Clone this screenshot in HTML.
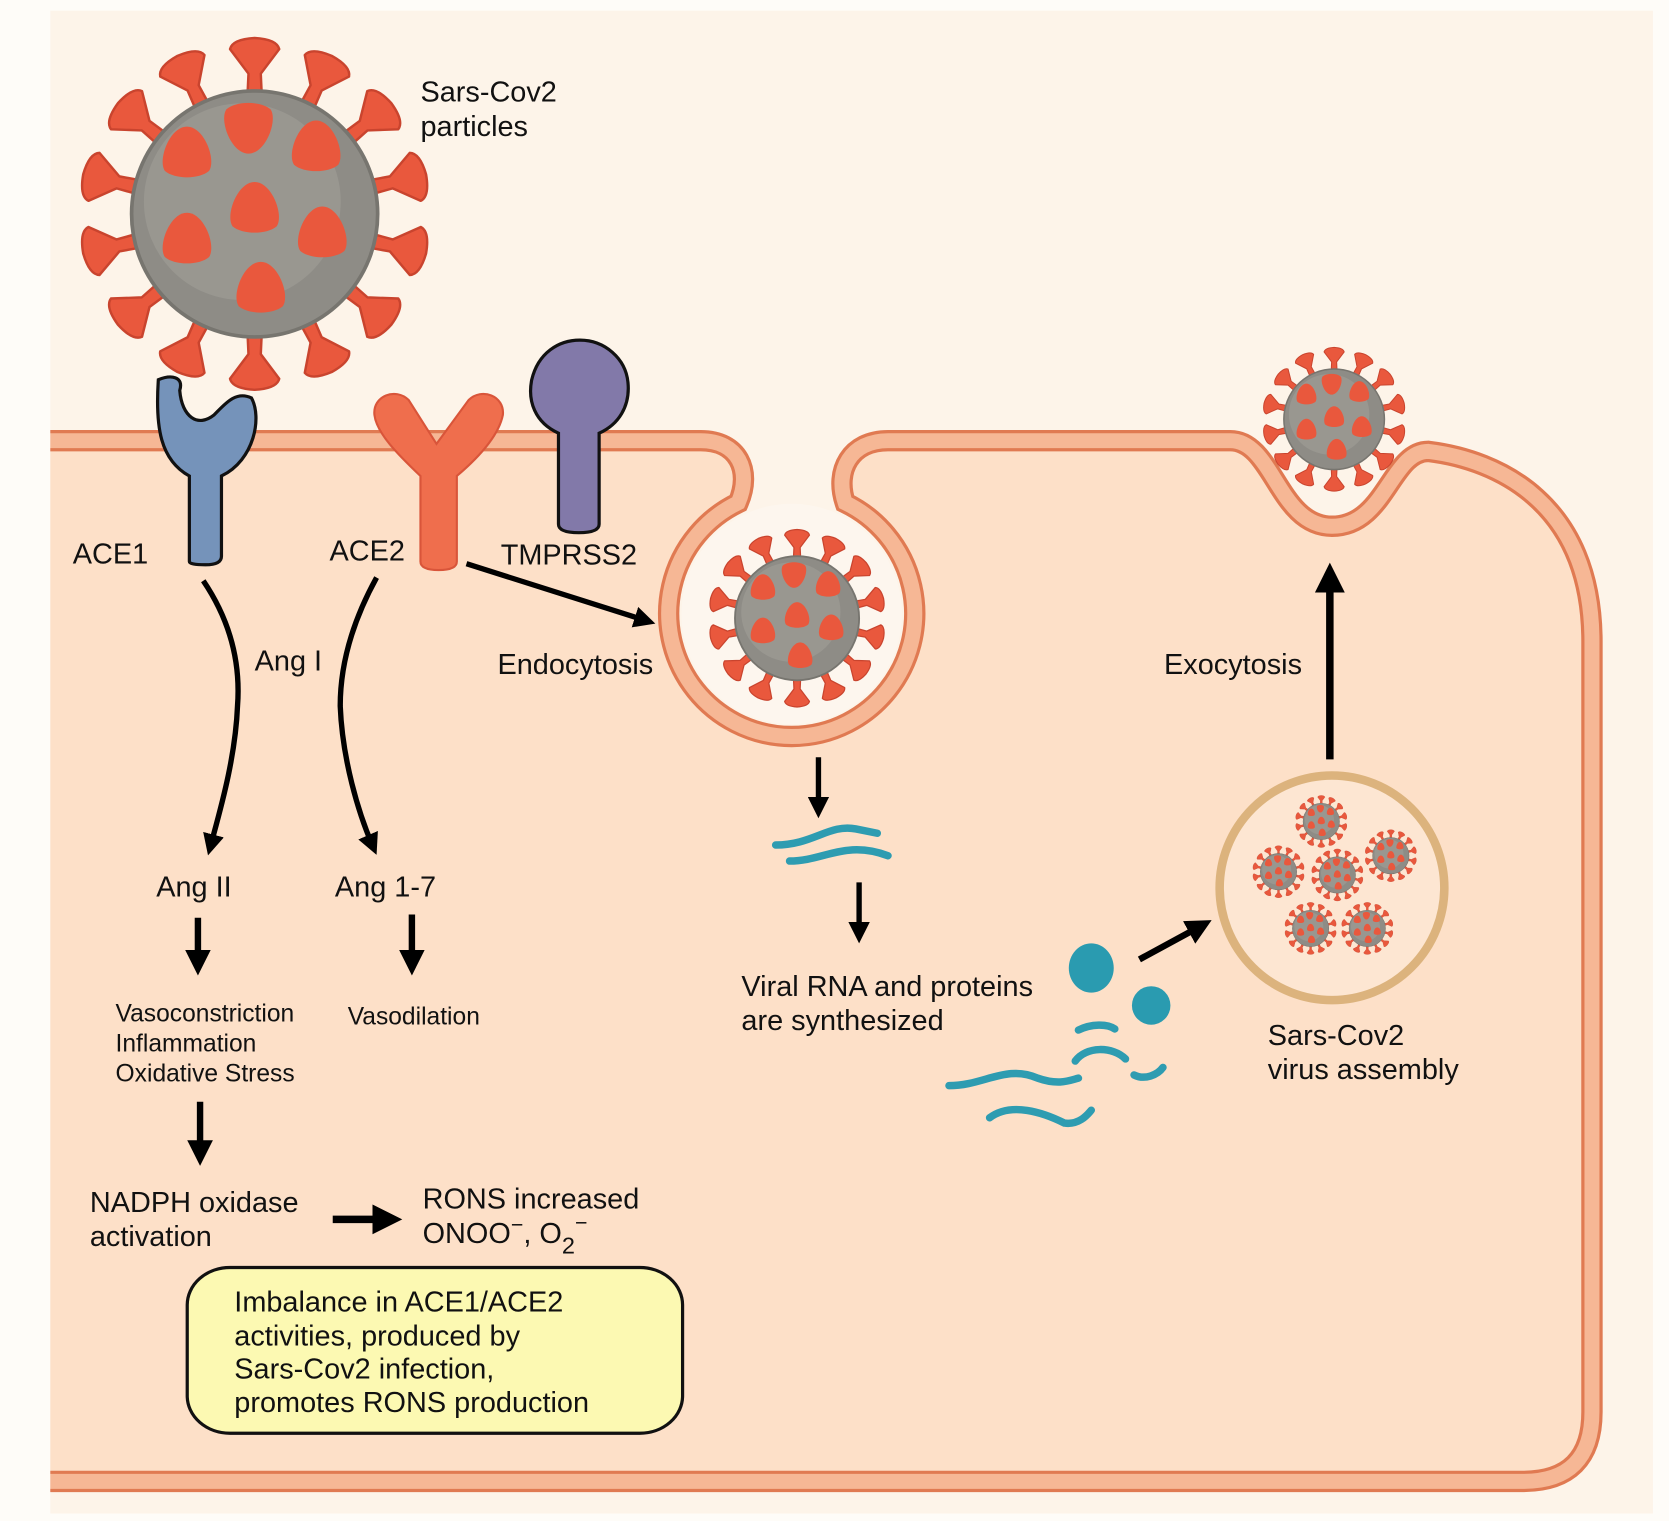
<!DOCTYPE html>
<html><head><meta charset="utf-8"><style>
html,body{margin:0;padding:0;background:#fefcf8;}
svg{display:block}
text{font-family:"Liberation Sans",Arial,sans-serif;fill:#111}
</style></head><body>
<svg width="1669" height="1521" viewBox="0 0 1560 1422" preserveAspectRatio="none" xmlns="http://www.w3.org/2000/svg">
<defs>
<g id="spike"><path d="M-6,-92 L-5,-114 L-20,-134 Q-18,-142 0,-143 Q18,-142 20,-134 L5,-114 L6,-92 Z" fill="#e9583d" stroke="#c9442e" stroke-width="2" stroke-linejoin="round"/></g>
<g id="blob"><path d="M0,-21 C14,-21 24,6 18,15 C10,22 -10,22 -18,15 C-24,6 -14,-21 0,-21Z" fill="#e9583d"/></g>
<g id="virus">
<use href="#spike" transform="rotate(0)"/><use href="#spike" transform="rotate(26)"/><use href="#spike" transform="rotate(51)"/><use href="#spike" transform="rotate(77)"/><use href="#spike" transform="rotate(103)"/><use href="#spike" transform="rotate(129)"/><use href="#spike" transform="rotate(154)"/><use href="#spike" transform="rotate(180)"/><use href="#spike" transform="rotate(206)"/><use href="#spike" transform="rotate(231)"/><use href="#spike" transform="rotate(257)"/><use href="#spike" transform="rotate(283)"/><use href="#spike" transform="rotate(309)"/><use href="#spike" transform="rotate(334)"/>
<circle r="100" fill="#8e8c86" stroke="#77756f" stroke-width="3"/>
<circle r="80" cx="-10" cy="-10" fill="#a09e97" opacity="0.6"/>
<use href="#blob" transform="translate(0,-5)"/>
<use href="#blob" transform="translate(-55,-50)"/><use href="#blob" transform="translate(-5,-70) rotate(180)"/>
<use href="#blob" transform="translate(50,-55)"/><use href="#blob" transform="translate(55,15)"/>
<use href="#blob" transform="translate(5,60)"/><use href="#blob" transform="translate(-55,20)"/>
</g>
<marker id="ah" markerWidth="4" markerHeight="4" refX="2" refY="2" orient="auto" markerUnits="strokeWidth"><path d="M0,0 L4,2 L0,4 Z" fill="#000"/></marker>
</defs>
<rect x="15" y="10" width="1530" height="1405" fill="#fdf4e9"/>
<path d="M20,412 L655,412 C690,412 703,440 690,470 A115 115 0 1 0 790,470 C780,440 795,412 830,412 L1150,412 C1190,412 1195,492 1245,492 C1295,492 1300,422 1335,422 C1400,430 1488,470 1488,600 L1488,1320 Q1488,1385 1423,1385 L20,1385 Z" fill="#fde0c8" stroke="#e07a52" stroke-width="20"/>
<path d="M20,412 L655,412 C690,412 703,440 690,470 A115 115 0 1 0 790,470 C780,440 795,412 830,412 L1150,412 C1190,412 1195,492 1245,492 C1295,492 1300,422 1335,422 C1400,430 1488,470 1488,600 L1488,1320 Q1488,1385 1423,1385 L20,1385" fill="none" stroke="#f6b795" stroke-width="14"/>
<circle cx="740" cy="574" r="103" fill="#fdf6ee"/>
<rect x="0" y="0" width="47" height="1422" fill="#fefcf8"/>
<circle cx="1245" cy="830" r="105" fill="#fde6d2" stroke="#dcb37d" stroke-width="8"/>
<use href="#virus" transform="translate(238,200) scale(1.15)"/>
<use href="#virus" transform="translate(745,578) scale(0.58)"/>
<use href="#virus" transform="translate(1247,392) scale(0.47)"/>
<use href="#virus" transform="translate(1235,768) scale(0.17)"/>
<use href="#virus" transform="translate(1195,815) scale(0.17)"/>
<use href="#virus" transform="translate(1250,818) scale(0.17)"/>
<use href="#virus" transform="translate(1300,800) scale(0.17)"/>
<use href="#virus" transform="translate(1225,868) scale(0.17)"/>
<use href="#virus" transform="translate(1278,868) scale(0.17)"/>
<path d="M177,525 L177,445 C150,430 145,400 148,355 C160,350 172,352 168,365 C170,390 185,400 200,388 C210,378 220,365 235,372 C245,390 238,430 207,445 L207,520 Q207,528 192,528 Q177,528 177,525Z" fill="#7593ba" stroke="#111" stroke-width="3"/>
<path d="M393,525 L393,445 C372,425 352,405 350,388 C348,370 370,362 382,374 L408,415 L438,374 C450,362 472,370 470,388 C466,408 447,428 427,445 L427,525 Q427,533 410,533 Q393,533 393,525Z" fill="#ef6e4d" stroke="#d9553a" stroke-width="2"/>
<path d="M522,490 L522,405 C500,395 493,375 497,355 C503,330 522,318 542,318 C565,318 585,335 587,358 C589,380 578,397 560,405 L560,490 Q560,498 541,498 Q522,498 522,490Z" fill="#8279a9" stroke="#111" stroke-width="3"/>
<g fill="none" stroke="#000" stroke-width="5">
<path d="M190,543 C215,580 225,620 222,660 C220,710 205,760 197,790" marker-end="url(#ah)"/>
<path d="M352,540 C330,580 318,620 318,660 C320,710 335,760 348,790" marker-end="url(#ah)"/>
<path d="M436,527 L603,580" marker-end="url(#ah)"/>
<path d="M185,858 L185,900" marker-end="url(#ah)" stroke-width="6"/>
<path d="M385,855 L385,900" marker-end="url(#ah)" stroke-width="6"/>
<path d="M187,1030 L187,1078" marker-end="url(#ah)" stroke-width="6"/>
<path d="M311,1140 L362,1140" marker-end="url(#ah)" stroke-width="7"/>
<path d="M765,708 L765,755" marker-end="url(#ah)" stroke-width="5"/>
<path d="M803,825 L803,872" marker-end="url(#ah)" stroke-width="5"/>
<path d="M1065,897 L1122,866" marker-end="url(#ah)" stroke-width="6"/>
<path d="M1243,710 L1243,540" marker-end="url(#ah)" stroke-width="7"/>
</g>
<g fill="none" stroke="#2e9cb1" stroke-width="7" stroke-linecap="round">
<path d="M725,790 C760,790 775,770 800,775 L820,779"/>
<path d="M738,805 C770,805 790,785 830,800"/>
<path d="M887,1015 C920,1015 940,995 970,1008 C990,1015 1000,1010 1008,1008"/>
<path d="M925,1045 C945,1030 975,1040 995,1050 C1010,1052 1018,1040 1020,1038"/>
<path d="M1008,963 C1020,957 1035,957 1042,962"/>
<path d="M1005,992 C1015,978 1040,978 1052,990"/>
<path d="M1060,1005 C1070,1010 1082,1005 1087,998"/>
</g>
<ellipse cx="1020" cy="905" rx="21" ry="23" fill="#2a9bb0"/>
<circle cx="1076" cy="940" r="18" fill="#2a9bb0"/>
<rect x="175" y="1185" width="463" height="155" rx="40" ry="35" fill="#fcf9b2" stroke="#111" stroke-width="3"/>
<g font-size="27">
<text x="393" y="95">Sars-Cov2</text><text x="393" y="127">particles</text>
<text x="68" y="527">ACE1</text>
<text x="308" y="524">ACE2</text>
<text x="468" y="528">TMPRSS2</text>
<text x="238" y="627">Ang I</text>
<text x="465" y="630">Endocytosis</text>
<text x="1088" y="630">Exocytosis</text>
<text x="146" y="838">Ang II</text>
<text x="313" y="838">Ang 1-7</text>
<text x="693" y="931">Viral RNA and proteins</text><text x="693" y="963">are synthesized</text>
<text x="1185" y="977">Sars-Cov2</text><text x="1185" y="1009">virus assembly</text>
<text x="84" y="1133">NADPH oxidase</text><text x="84" y="1165">activation</text>
<text x="395" y="1130">RONS increased</text>
<text x="395" y="1162">ONOO<tspan dy="-10" font-size="20">−</tspan><tspan dy="10">, O</tspan><tspan dy="10" font-size="22">2</tspan><tspan dy="-22" font-size="20">−</tspan></text>
<text x="219" y="1226">Imbalance in ACE1/ACE2</text>
<text x="219" y="1258">activities, produced by</text>
<text x="219" y="1289">Sars-Cov2 infection,</text>
<text x="219" y="1320">promotes RONS production</text>
</g>
<g font-size="23">
<text x="108" y="955">Vasoconstriction</text><text x="108" y="983">Inflammation</text><text x="108" y="1011">Oxidative Stress</text>
<text x="325" y="958">Vasodilation</text>
</g>
</svg>
</body></html>
